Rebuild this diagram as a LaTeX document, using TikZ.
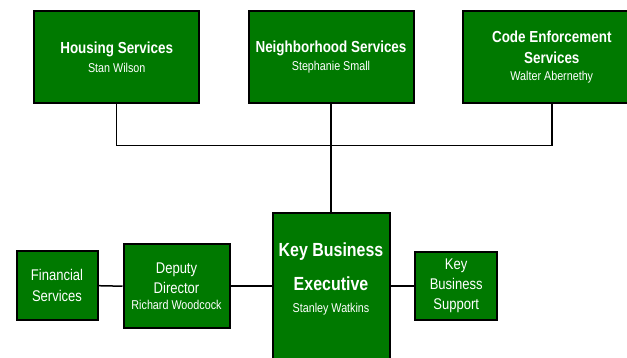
\documentclass[tikz,border=0pt]{standalone}
\usepackage{fontspec}
\setmainfont{Liberation Sans}[FakeStretch=0.84]

\definecolor{unitgreen}{RGB}{0,121,0}
% font sizes for the chart
\newcommand{\unitname}{\fontsize{16}{20}\selectfont\bfseries}
\newcommand{\headname}{\fontsize{12.8}{15}\selectfont\mdseries}

\begin{document}
\begin{tikzpicture}[x=1pt,y=-1pt,
		unit/.style={draw=black, line width=2pt, fill=unitgreen, text=white, align=center, inner sep=0pt},
		link/.style={draw=black, line width=1.5pt}]
		\path[use as bounding box, clip] (0,0) rectangle (627,357);

		% top row
		\node[unit, minimum width=165pt, minimum height=92pt, font=\unitname] (hous) at (116.7,57.3)
			{Housing Services\\[-1.6pt]\headname Stan Wilson};
		\node[unit, minimum width=165pt, minimum height=92pt, font=\unitname] (nbhd) at (331,57.3)
			{Neighborhood Services\\[-1.6pt]\headname Stephanie Small};
		\node[unit, minimum width=178pt, minimum height=92pt, font=\unitname] (code) at (551.8,57.3)
			{Code Enforcement\\[0.7pt]Services\\[-2.3pt]\headname Walter Abernethy};

		% executive box runs past the lower edge
		\node[unit, minimum width=117pt, minimum height=186pt] (key) at (331,306) {};
		\node[text=white, align=center, inner sep=0pt, font=\fontsize{19}{34.7}\selectfont\bfseries] (keytext) at (331,278.8)
			{Key Business\\Executive\\[-12.7pt]\headname Stanley Watkins};

		% bottom row
		\node[unit, minimum width=81pt, minimum height=68.5pt, font=\fontsize{15.5}{21}\selectfont] (fin) at (57,285.7)
			{Financial\\Services};
		\node[unit, minimum width=106pt, minimum height=84pt, font=\fontsize{15.5}{20}\selectfont] (dep) at (176.5,286.2)
			{Deputy\\Director\\[-3.3pt]\headname Richard Woodcock};
		\node[unit, minimum width=81.5pt, minimum height=68.5pt, font=\fontsize{15.5}{20}\selectfont] (kbs) at (456.2,285.9)
			{Key\\Business\\Support};

		% connectors
		\coordinate (bus) at (331,145.7);
		\draw[link] (hous.south) |- (bus) -| (code.south);
		\draw[link] (nbhd.south) -- (key.north);
		\draw[link] (fin.east) -- (dep.west);
		\draw[link] (dep.east) -- (dep.east -| key.west);
		\draw[link] (kbs.west -| key.east) -- (kbs.west);
	\end{tikzpicture}
\end{document}
